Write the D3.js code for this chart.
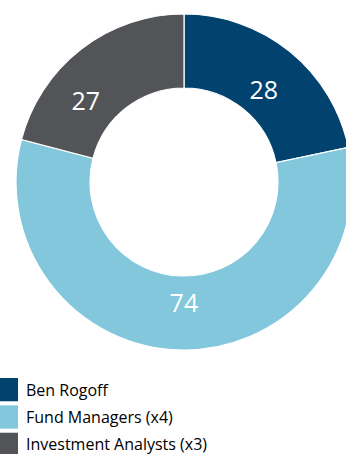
<!DOCTYPE html>
<html><head><meta charset="utf-8">
<script src="https://cdn.jsdelivr.net/npm/d3@7"></script>
<style>html,body{margin:0;padding:0;background:#fff;overflow:hidden}</style>
</head><body>
<svg id="c" width="346" height="454"></svg>
<script>
const categories = ["Ben Rogoff", "Fund Managers (x4)", "Investment Analysts (x3)"];
const values = [28, 74, 27];
const colors = ["#01426f", "#82c7dc", "#525458"];

const svg = d3.select("#c");
const cx = 184, cy = 182, outerR = 168, innerR = 94;
const g = svg.append("g").attr("transform", `translate(${cx},${cy})`);

const pie = d3.pie().sort(null).value(d => d)(values);
const arc = d3.arc().innerRadius(innerR).outerRadius(outerR);
const labelArc = d3.arc().innerRadius(128).outerRadius(128);

g.selectAll("path").data(pie).join("path")
  .attr("d", arc)
  .attr("fill", (d, i) => colors[i])
  .attr("stroke", "#fff").attr("stroke-width", 1.2);

const nudges = [[-1, 6], [3, -8], [-20, 19]];
g.selectAll("text").data(pie).join("text")
  .attr("x", (d, i) => labelArc.centroid(d)[0] + nudges[i][0])
  .attr("y", (d, i) => labelArc.centroid(d)[1] + nudges[i][1])
  .attr("text-anchor", "middle")
  .attr("dominant-baseline", "central")
  .attr("fill", "#fff")
  .attr("font-family", "Open Sans")
  .attr("font-size", 25)
  .text(d => d.value);

const lg = svg.append("g");
const y = d3.scaleBand().domain(categories).range([378, 456]).paddingInner(0.15);
lg.selectAll("rect").data(categories).join("rect")
  .attr("x", 0).attr("y", d => y(d))
  .attr("width", 18).attr("height", y.bandwidth())
  .attr("fill", (d, i) => colors[i]);
lg.selectAll("text").data(categories).join("text")
  .attr("x", 26).attr("y", d => y(d) + y.bandwidth() / 2)
  .attr("dominant-baseline", "central")
  .attr("font-family", "Open Sans")
  .attr("font-size", 16)
  .attr("fill", "#000")
  .text(d => d);
</script>
</body></html>
